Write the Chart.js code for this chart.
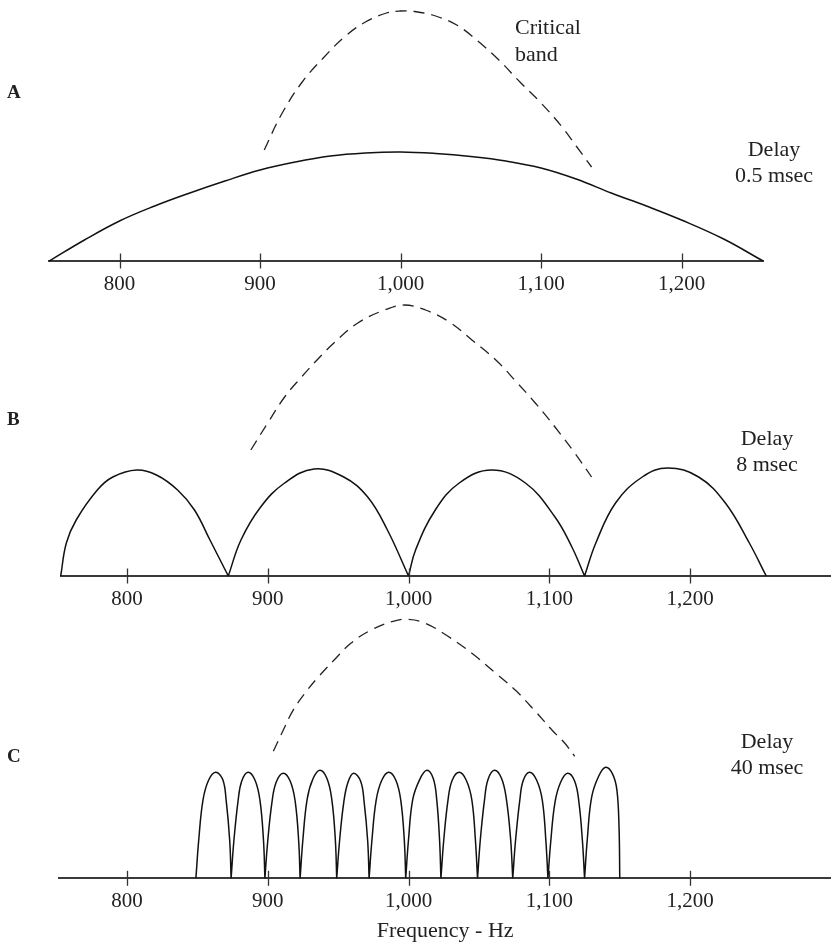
<!DOCTYPE html>
<html>
<head>
<meta charset="utf-8">
<title>Critical band and comb filtering</title>
<script src="https://cdn.jsdelivr.net/npm/chart.js@4.4.1/dist/chart.umd.min.js"></script>
<style>
  body { margin: 0; width: 831px; height: 944px; position: relative; background: #fff;
         font-family: 'Liberation Serif', serif; color: #222; overflow: hidden; }
  canvas { position: absolute; left: 0; }
  .txt { position: absolute; font-size: 22px; line-height: 26px; white-space: nowrap; }
  .panel { position: absolute; left: 7px; font-size: 19px; line-height: 20px; font-weight: bold; }
  .delay { width: 100px; text-align: center; }
</style>
</head>
<body>

<canvas id="chartA" width="831" height="300" style="top:0px"></canvas>
<canvas id="chartB" width="831" height="310" style="top:300px"></canvas>
<canvas id="chartC" width="831" height="334" style="top:610px"></canvas>

<div class="panel" style="top:82px">A</div>
<div class="panel" style="top:409px">B</div>
<div class="panel" style="top:746px">C</div>

<div class="txt" style="left:515px; top:13px; line-height:27px">Critical<br>band</div>
<div class="txt delay" style="left:724px; top:136px">Delay<br>0.5 msec</div>
<div class="txt delay" style="left:717px; top:425px">Delay<br>8 msec</div>
<div class="txt delay" style="left:717px; top:728px">Delay<br>40 msec</div>

<script>
// x axis ticks (Hz)
const tickHz = [800, 900, 1000, 1100, 1200];

// A: delay 0.5 msec - one broad lobe
const delayHalfHz  = [750, 775, 800, 825, 850, 875, 900, 925, 950, 975, 1000, 1025, 1050, 1075, 1100,
                      1125, 1150, 1175, 1200, 1230, 1258];
const delayHalfAmp = [0, 21, 40, 55, 68, 80, 91, 99, 105, 108, 109, 107.5, 104.5, 100, 93,
                      82, 68, 55, 41, 22, 0];

// critical band curve over A
const bandAHz  = [903, 915, 930, 945, 960, 975, 990, 1000, 1010, 1025, 1040, 1055, 1070, 1085, 1100, 1115, 1125, 1136];
const bandAAmp = [111, 146, 179, 203, 224, 239, 248, 250, 249.5, 245, 236, 220, 201, 179, 158, 134, 115, 94];

// B: delay 8 msec - four lobes (null = break between lobes)
const delay8Hz = [753, 757, 764, 779, 790, 807, 821, 836, 848, 859, 872, 872,
                  872, 881, 895, 912, 933, 954, 971, 985, 1000, 1000,
                  1000, 1005, 1019, 1036, 1059, 1083, 1104, 1116, 1125, 1125,
                  1125, 1133, 1147, 1166, 1184, 1206, 1225, 1242, 1254];
const delay8Amp = [0, 33, 56, 86, 99, 106, 101, 86, 66, 36, 0, null,
                   0, 36, 69, 93, 107, 99, 79, 46, 0, null,
                   0, 26, 66, 93, 106, 93, 59, 29, 0, null,
                   0, 33, 73, 99, 108, 99, 73, 33, 0];

const bandBHz  = [888, 900, 912, 924, 935, 947, 964, 983, 997, 1012, 1029, 1045, 1062, 1076, 1090, 1104, 1118, 1130];
const bandBAmp = [126, 153, 179, 199, 216, 233, 253, 266, 271, 266, 254, 236, 216, 195, 173, 149, 123, 99];

// C: delay 40 msec - twelve narrow lobes
const delay40Hz = [849, 851, 854, 858, 863, 868, 870.5, 873, 874, 874,
                   874, 876, 879, 881.5, 886, 891, 894.5, 897, 898, 898,
                   898, 900, 903, 906, 911, 916, 919.5, 922, 923, 923,
                   923, 925, 928, 932, 937, 942, 945.5, 948, 949, 949,
                   949, 951, 954, 957, 961, 966, 968.5, 971, 972, 972,
                   972, 974, 977, 981, 986, 991, 994.5, 997, 998, 998,
                   998, 1000, 1003, 1008, 1013, 1017.5, 1020, 1022, 1023, 1023,
                   1023, 1025, 1028, 1031, 1036, 1041, 1045, 1047.5, 1049, 1049,
                   1049, 1051, 1054, 1056.5, 1061, 1066, 1069.5, 1072.5, 1074, 1074,
                   1074, 1076, 1079, 1081.5, 1086, 1091, 1095, 1097.5, 1099, 1099,
                   1099, 1101, 1104, 1108, 1113, 1118, 1121, 1123.5, 1125, 1125,
                   1125, 1127, 1130, 1135, 1140, 1145, 1148, 1149.5, 1150];
const delay40Amp = [0, 38, 78, 98, 106, 99, 78, 38, 0, null,
                    0, 38, 78, 97, 106, 98, 78, 38, 0, null,
                    0, 37, 76, 96, 105, 97, 77, 37, 0, null,
                    0, 39, 79, 99, 108, 100, 79, 39, 0, null,
                    0, 37, 76, 96, 105, 97, 76, 37, 0, null,
                    0, 38, 78, 98, 106, 98, 78, 38, 0, null,
                    0, 39, 79, 99, 108, 100, 79, 39, 0, null,
                    0, 38, 78, 98, 106, 98, 78, 38, 0, null,
                    0, 39, 79, 99, 108, 100, 79, 39, 0, null,
                    0, 38, 78, 98, 106, 98, 78, 38, 0, null,
                    0, 37, 76, 96, 105, 97, 76, 37, 0, null,
                    0, 40, 81, 102, 111, 104, 88, 50, 0];

const bandCHz  = [904, 911, 918, 928, 937, 947, 959, 973, 989, 1000, 1012, 1028, 1045, 1062, 1076, 1090, 1102, 1111, 1118];
const bandCAmp = [127, 148, 168, 188, 203, 218, 235, 248, 257, 259, 255, 242, 225, 205, 188, 167, 148, 135, 122];

Chart.defaults.font.family = "'Liberation Serif', serif";
Chart.defaults.color = '#222';

function pts(hz, amp) {
  return hz.map((f, i) => ({ x: f, y: amp[i] }));
}

// tick marks that cross the axis line
const crossTicks = {
  id: 'crossTicks',
  afterDraw(chart) {
    const xs = chart.scales.x;
    const y0 = chart.scales.y.getPixelForValue(0);
    const ctx = chart.ctx;
    ctx.save();
    ctx.strokeStyle = '#333';
    ctx.lineWidth = 1.3;
    tickHz.forEach(v => {
      const px = Math.round(xs.getPixelForValue(v)) + 0.5;
      ctx.beginPath();
      ctx.moveTo(px, y0 - 7.5);
      ctx.lineTo(px, y0 + 7.5);
      ctx.stroke();
    });
    ctx.restore();
  }
};

function drawPanel(id, p) {
  const ctx = document.getElementById(id).getContext('2d');
  return new Chart(ctx, {
    type: 'line',
    data: {
      datasets: [
        {
          data: pts(p.bandHz, p.bandAmp),
          borderColor: '#222', borderWidth: 1.3, borderDash: [11, 7],
          pointRadius: 0, tension: 0.4, clip: false
        },
        {
          data: pts(p.hz, p.amp),
          borderColor: '#111', borderWidth: 1.5,
          pointRadius: 0, tension: 0.4, spanGaps: false, clip: false
        }
      ]
    },
    options: {
      responsive: false,
      animation: false,
      layout: { padding: { left: p.left, right: p.right, top: 0, bottom: 0 } },
      plugins: { legend: { display: false }, tooltip: { enabled: false } },
      scales: {
        x: {
          type: 'linear',
          min: p.min,
          max: p.max,
          afterBuildTicks: s => { s.ticks = tickHz.map(v => ({ value: v })); },
          afterFit: s => { s.height = p.axisHeight; },
          grid: { display: false, drawTicks: false },
          border: { display: true, color: '#3a3a3a', width: 2 },
          ticks: {
            padding: 11, autoSkip: false, maxRotation: 0,
            font: { size: 21 }, color: '#222',
            callback: v => v.toLocaleString('en-US')
          },
          title: {
            display: !!p.title, text: p.title || '',
            font: { size: 22 }, color: '#222', padding: { top: 4, bottom: 0 }
          }
        },
        y: { display: false, min: 0, max: p.yMax }
      }
    },
    plugins: [crossTicks]
  });
}

drawPanel('chartA', {
  hz: delayHalfHz, amp: delayHalfAmp, bandHz: bandAHz, bandAmp: bandAAmp,
  min: 750, max: 1258, left: 49.3, right: 68, axisHeight: 39, yMax: 261
});

drawPanel('chartB', {
  hz: delay8Hz, amp: delay8Amp, bandHz: bandBHz, bandAmp: bandBAmp,
  min: 753, max: 1300, left: 60.7, right: 0, axisHeight: 34, yMax: 276
});

drawPanel('chartC', {
  hz: delay40Hz, amp: delay40Amp, bandHz: bandCHz, bandAmp: bandCAmp,
  min: 752, max: 1300, left: 59.3, right: 0, axisHeight: 65.7, yMax: 268.3,
  title: 'Frequency - Hz'
});
</script>
</body>
</html>
